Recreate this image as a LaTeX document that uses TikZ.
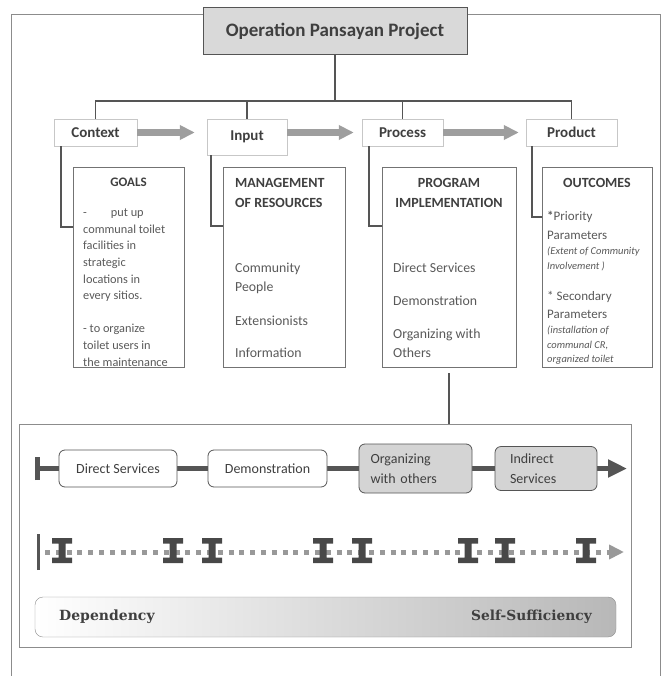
\documentclass[tikz,border=0pt]{standalone}
\usepackage{fontspec}
\setmainfont{Carlito}
\newfontfamily\slabfont{DejaVu Serif}
\usetikzlibrary{calc,arrows.meta,positioning}

\definecolor{inkgray}{HTML}{3F3F3F}
\definecolor{bodygray}{HTML}{595959}
\definecolor{linegray}{HTML}{555555}

\tikzset{
  txt/.style={inner sep=0pt,text=bodygray},
  hdr/.style={draw=black!22,fill=white,minimum height=27pt,inner sep=0pt,
    font=\fontsize{15}{18}\selectfont\bfseries,text=inkgray},
  cbox/.style={draw=black!55,line width=0.8pt,minimum height=200pt},
  conn/.style={draw=linegray,line width=1.6pt},
  blk/.style={draw=black!38,line width=7pt,-{Triangle[length=15pt,width=14pt]}},
  stage/.style={draw=linegray,line width=0.8pt,rounded corners=6pt,minimum height=37pt,
    font=\fontsize{14}{20}\selectfont,text=inkgray},
}

\begin{document}
\begin{tikzpicture}[x=1pt,y=-1pt,
    track/.style={draw=linegray,line width=5pt,{Bar[width=23pt]}-{Triangle[length=19pt,width=17pt]}},
    dots/.style={draw=black!40,line width=5pt,dash pattern=on 5pt off 5.8pt,dash phase=5pt,
      {Bar[width=36pt,line width=3pt,color=linegray]}-{Triangle[length=15pt,width=14pt]}},
    beam/.style={fill=linegray!85!black}]
  \useasboundingbox (0,0) rectangle (664,676);
  % outer frame
  \draw[black!45,line width=0.8pt] (11,690) |- (660,14) -- (660,690);

  \node[draw=linegray,line width=1pt,fill=black!15,minimum width=264pt,minimum height=47pt,
    font=\fontsize{19}{22}\selectfont\bfseries,text=inkgray] (title) at (335,31.5) {Operation Pansayan Project};

  % headers
  \node[hdr,minimum width=83pt] (ctx) at (95.5,132.5) {Context};
  \node[hdr,minimum width=80pt,minimum height=36pt] (inp) at (247,137) {Input};
  \node[hdr,minimum width=81pt] (prc) at (402.5,132.5) {Process};
  \node[hdr,minimum width=91pt] (prd) at (571.5,132.5) {Product};

  \coordinate (bus) at (335,101);
  \draw[conn] (title) -- (bus);
  \draw[conn] (ctx) |- (bus) -| (prd);
  \draw[conn] (inp) -- (inp |- bus);
  \draw[conn] (prc) -- (prc |- bus);

  \draw[blk,shorten >=12pt] (ctx.east) -- (ctx.east -| inp.west);
  \draw[blk,shorten >=8pt] (inp.east |- prc.west) -- (prc.west);
  \draw[blk,shorten >=7pt] (prc.east) -- (prd.west);

  % boxes below the headers
  \node[cbox,minimum width=111pt] (goals) at (128.5,267) {};
  \node[cbox,minimum width=122pt] (mgmt) at (284,267) {};
  \node[cbox,minimum width=134pt] (prog) at (449,267) {};
  \node[cbox,minimum width=110pt] (outc) at (597,267) {};

  \draw[conn] ([xshift=7pt]ctx.south west) |- ([yshift=40pt]goals.west);
  \draw[conn] ([xshift=4pt]inp.south west) |- ([yshift=41pt]mgmt.west);
  \draw[conn] ([xshift=7pt]prc.south west) |- ([yshift=41pt]prog.west);
  \draw[conn] ([xshift=6pt]prd.south west) |- ([yshift=50pt]outc.west);

  \node[txt,text=inkgray,font=\fontsize{13}{16}\selectfont\bfseries] (goalsH) at (128.5,182) {GOALS};
  \node[txt,anchor=north west,align=left,font=\fontsize{12.3}{16.7}\selectfont] (goalsB) at (83,208.5)
    {-\hspace{24pt}put up\\communal toilet\\facilities in\\strategic\\locations in\\every sitios.\\[16pt]
     - to organize\\toilet users in\\the maintenance};

  \node[txt,text=inkgray,anchor=north west,align=left,font=\fontsize{14}{20}\selectfont\bfseries] (mgmtH) at (235,178.5)
    {MANAGEMENT\\OF RESOURCES};
  \node[txt,anchor=north west,align=left,font=\fontsize{13.8}{19}\selectfont] (mgmtB) at (235,263)
    {Community\\People\\[15pt]Extensionists\\[13pt]Information};

  \node[txt,text=inkgray,anchor=north,align=center,font=\fontsize{14}{20}\selectfont\bfseries] (progH) at (449,178.5)
    {PROGRAM\\IMPLEMENTATION};
  \node[txt,anchor=north west,align=left,font=\fontsize{13.8}{19}\selectfont] (progB) at (393,263)
    {Direct Services\\[14pt]Demonstration\\[14pt]Organizing with\\Others};

  \node[txt,text=inkgray,font=\fontsize{14}{17}\selectfont\bfseries] (outcH) at (597,183) {OUTCOMES};
  \node[txt,anchor=north west,align=left,font=\fontsize{13}{19}\selectfont] (outcB1) at (547,211)
    {\textbf{*}Priority\\Parameters};
  \node[txt,anchor=north west,align=left,font=\fontsize{10.5}{15}\selectfont\itshape] (outcI1) at (547,247)
    {(Extent of Community\\Involvement )};
  \node[txt,anchor=north west,align=left,font=\fontsize{13}{18}\selectfont] (outcB2) at (547,291)
    {* Secondary\\Parameters};
  \node[txt,anchor=north west,align=left,font=\fontsize{10.5}{14.5}\selectfont\itshape] (outcI2) at (547,326)
    {(installation of\\communal CR,\\organized toilet};

  % lower panel
  \node[draw=black!45,line width=0.8pt,minimum width=612pt,minimum height=223pt] (panel) at (325,535.5) {};
  \draw[conn,shorten <=6pt] (prog.south) -- (prog.south |- panel.north);

  \coordinate (r1a) at (35,468.5);
  \coordinate (r1b) at (627,468.5);
  \draw[track] (r1a) -- (r1b);
  \node[stage,fill=white,minimum width=118pt] (ds) at (118,468.5) {Direct Services};
  \node[stage,fill=white,minimum width=119pt] (dm) at (267.5,468.5) {Demonstration};
  \node[stage,fill=black!17,minimum width=113pt,minimum height=49pt,text width=90pt,align=left] (ow) at (415.5,468.5)
    {Organizing\\with others};
  \node[stage,fill=black!17,minimum width=102pt,minimum height=44pt,text width=72pt,align=left] (is) at (546,468.5)
    {Indirect\\Services};

  \coordinate (r2a) at (37,552);
  \coordinate (r2b) at (624,552);
  \draw[dots] (r2a) -- (r2b);
  \foreach \bx in {62,173,212,323,362,468,505,586}
    \fill[beam] (\bx-10,538) -- (\bx+10,538) -- (\bx+10,543.5) -- (\bx+3.5,543.5) -- (\bx+3.5,557.5)
      -- (\bx+10,557.5) -- (\bx+10,563) -- (\bx-10,563) -- (\bx-10,557.5) -- (\bx-3.5,557.5)
      -- (\bx-3.5,543.5) -- (\bx-10,543.5) -- cycle;

  \node[draw=black!45,rounded corners=8pt,left color=white,right color=black!28,
    minimum width=581pt,minimum height=40pt] (gauge) at (325.5,617) {};
  \node[txt,text=inkgray,anchor=west,font=\slabfont\fontsize{14}{16}\selectfont\bfseries] (dep) at (59,617) {Dependency};
  \node[txt,text=inkgray,anchor=east,font=\slabfont\fontsize{13.8}{16}\selectfont\bfseries] (selfs) at (592,617) {Self-Sufficiency};
\end{tikzpicture}
\end{document}
